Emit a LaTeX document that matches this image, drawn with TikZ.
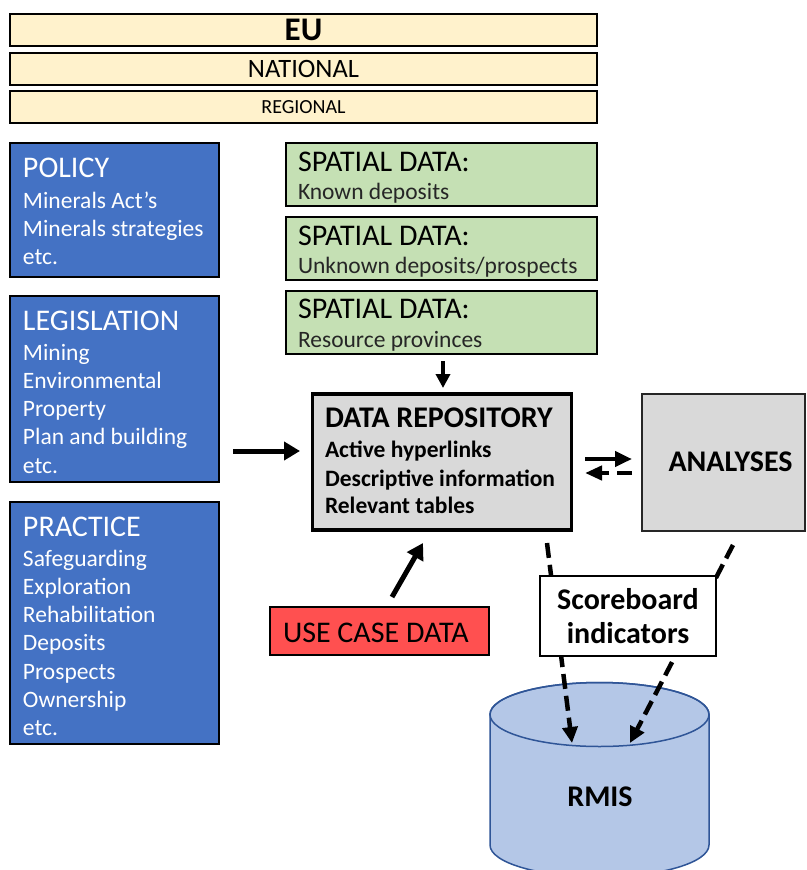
\documentclass[tikz,border=0pt]{standalone}
\usepackage{fontspec}
\setmainfont{Carlito}
\usetikzlibrary{arrows.meta}
\definecolor{yel}{HTML}{FFF2CC}
\definecolor{bluebg}{HTML}{4472C4}
\definecolor{greenbg}{HTML}{C5E0B4}
\definecolor{greybg}{HTML}{D9D9D9}
\definecolor{redbg}{HTML}{FF5050}
\definecolor{cylfill}{HTML}{B4C7E7}
\definecolor{cylline}{HTML}{2F5597}
\begin{document}
\begin{tikzpicture}[x=1pt,y=-1pt,
  every node/.style={inner sep=0pt, outer sep=0pt},
  lvl/.style={draw=black, line width=2.8pt, fill=yel, minimum width=587pt, minimum height=32pt},
  bluebox/.style={draw=black, line width=2.5pt, fill=bluebg, minimum width=209pt},
  greenbox/.style={draw=black, line width=2.5pt, fill=greenbg, minimum width=311pt, minimum height=63pt},
  ttl/.style={font=\fontsize{30}{34}\selectfont, text=white, anchor=base west},
  itm/.style={font=\fontsize{23.5}{28}\selectfont, text=white, anchor=base west},
  gttl/.style={font=\fontsize{30}{34}\selectfont, text=black, anchor=base west},
  gsub/.style={font=\fontsize{23.5}{28}\selectfont, text=black!85, anchor=base west},
  rttl/.style={font=\fontsize{30}{34}\selectfont\bfseries, anchor=base west},
  ritm/.style={font=\fontsize{23.5}{28}\selectfont\bfseries, anchor=base west},
  arr/.style={line width=5pt, -{Triangle[length=16pt,width=18pt]}},
  darr/.style={line width=4.5pt, dash pattern=on 15pt off 7pt, -{Triangle[length=16pt,width=15pt]}}
]
\clip (0,0) rectangle (806,870);
\fill[white] (0,0) rectangle (806,870);

% level bars
\node[lvl, font=\fontsize{33}{36}\selectfont\bfseries] (eu) at (303.5,30) {EU};
\node[lvl, font=\fontsize{26.5}{30}\selectfont] (nat) at (303.5,69) {NATIONAL};
\node[lvl, font=\fontsize{20}{24}\selectfont] (reg) at (303.5,107) {REGIONAL};

% blue boxes
\node[bluebox, minimum height=134pt] (pol) at (114.5,210) {};
\node[ttl] (polT) at (23,177) {POLICY};
\node[itm] (pol1) at (23,208) {Minerals Act’s};
\node[itm] (pol2) at (23,236) {Minerals strategies};
\node[itm] (pol3) at (23,264) {etc.};

\node[bluebox, minimum height=186pt] (leg) at (114.5,389) {};
\node[ttl] (legT) at (23,330) {LEGISLATION};
\node[itm] (leg1) at (23,360) {Mining};
\node[itm] (leg2) at (23,388) {Environmental};
\node[itm] (leg3) at (23,416) {Property};
\node[itm] (leg4) at (23,444) {Plan and building};
\node[itm] (leg5) at (23,473) {etc.};

\node[bluebox, minimum height=242pt] (pra) at (114.5,623) {};
\node[ttl] (praT) at (23,536) {PRACTICE};
\node[itm] (pra1) at (23,566) {Safeguarding};
\node[itm] (pra2) at (23,594) {Exploration};
\node[itm] (pra3) at (23,622) {Rehabilitation};
\node[itm] (pra4) at (23,650) {Deposits};
\node[itm] (pra5) at (23,679) {Prospects};
\node[itm] (pra6) at (23,707) {Ownership};
\node[itm] (pra7) at (23,735) {etc.};

% green boxes
\node[greenbox] (sp1) at (441.5,174.5) {};
\node[gttl] (sp1T) at (298,171) {SPATIAL DATA:};
\node[gsub] (sp1S) at (298,199) {Known deposits};
\node[greenbox] (sp2) at (441.5,248.5) {};
\node[gttl] (sp2T) at (298,245) {SPATIAL DATA:};
\node[gsub] (sp2S) at (298,273) {Unknown deposits/prospects};
\node[greenbox] (sp3) at (441.5,322.5) {};
\node[gttl] (sp3T) at (298,318) {SPATIAL DATA:};
\node[gsub] (sp3S) at (298,347) {Resource provinces};

% data repository
\node[draw=black, line width=3.5pt, fill=greybg, minimum width=259pt, minimum height=136pt] (repo) at (442,462) {};
\node[rttl] (repoT) at (325,427) {DATA REPOSITORY};
\node[ritm] (repo1) at (325,457) {Active hyperlinks};
\node[ritm] (repo2) at (325,486) {Descriptive information};
\node[ritm] (repo3) at (325,513) {Relevant tables};

% analyses
\node[draw=black!85, line width=2pt, fill=greybg, minimum width=163pt, minimum height=137pt] (ana) at (723.5,462.5) {};
\node[font=\fontsize{30}{34}\selectfont\bfseries, anchor=base] (anaT) at (730.5,471) {ANALYSES};

% use case
\node[draw=black, line width=2pt, fill=redbg, minimum width=219pt, minimum height=48pt] (uc) at (379.5,631) {};
\node[font=\fontsize{30}{34}\selectfont, anchor=base west] (ucT) at (283,642) {USE CASE DATA};

% cylinder
\path[fill=cylfill, draw=cylline, line width=1.5pt]
  (490,714.5) -- (490,845) arc[start angle=180, end angle=360, x radius=109.5pt, y radius=32pt]
  -- (709,714.5) arc[start angle=0, end angle=180, x radius=109.5pt, y radius=32pt] -- cycle;
\draw[cylline, line width=1.5pt] (599.5,714.5) ellipse[x radius=109.5pt, y radius=32pt];
\node[font=\fontsize{30}{34}\selectfont\bfseries] (rmis) at (600,797) {RMIS};
\coordinate (cylA) at (572,743);
\coordinate (cylB) at (630,743);

% dashed connectors (behind scoreboard)
\coordinate (dA) at (547,543);
\coordinate (dB) at (733,545);
\draw[darr] (dA) -- (cylA);
\draw[darr] (dB) -- (cylB);

% scoreboard
\node[draw=black, line width=2pt, fill=white, minimum width=176pt, minimum height=80pt,
      align=center, font=\fontsize{30}{34}\selectfont\bfseries] (score) at (628,616) {Scoreboard\\indicators};

% arrows
\coordinate (la1) at (233,451);
\coordinate (la2) at (300,451);
\draw[arr] (la1) -- (la2);
\coordinate (sa1) at (443,361);
\coordinate (sa2) at (443,388);
\draw[line width=4pt, -{Triangle[length=14pt,width=14pt]}] (sa1) -- (sa2);
\coordinate (ua1) at (392,597);
\coordinate (ua2) at (423,543);
\draw[arr] (ua1) -- (ua2);

\coordinate (ra1) at (585,459);
\coordinate (ra2) at (632,459);
\draw[line width=4.5pt, -{Triangle[length=17pt,width=15pt]}] (ra1) -- (ra2);
\draw[line width=4.5pt, dash pattern=on 15pt off 8pt, -{Triangle[length=17pt,width=14pt]}] (632,473) coordinate (lb1) -- (585,473) coordinate (lb2);
\end{tikzpicture}
\end{document}
